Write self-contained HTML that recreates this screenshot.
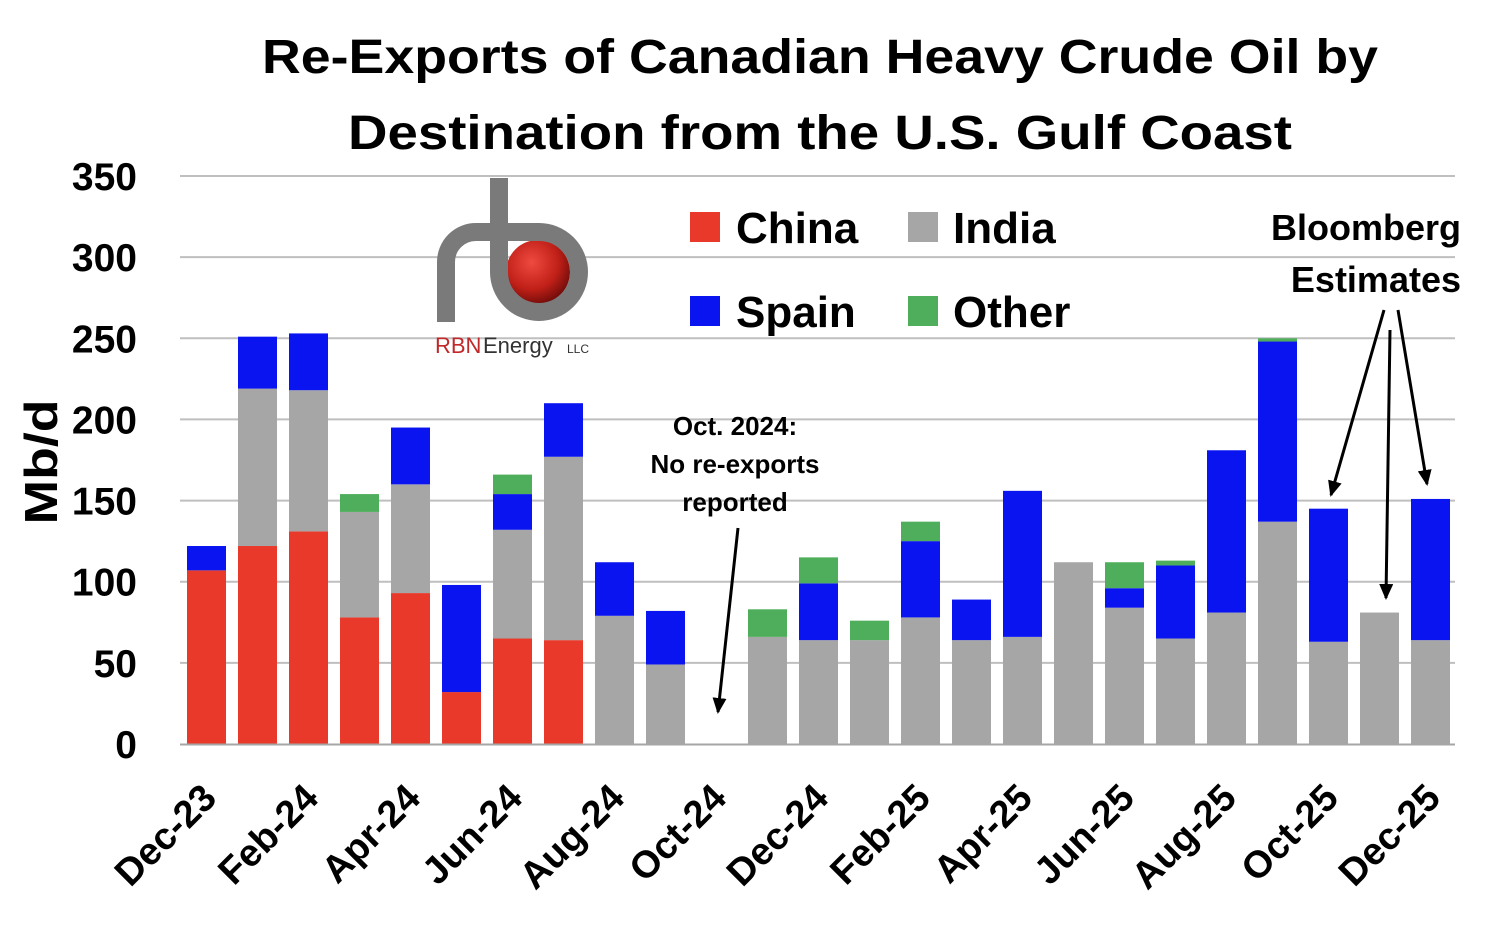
<!DOCTYPE html>
<html><head><meta charset="utf-8">
<style>
html,body{margin:0;padding:0;background:#fff;}
svg{display:block;font-family:"Liberation Sans",sans-serif;}
</style></head>
<body>
<svg id="chart" width="1502" height="928" viewBox="0 0 1502 928">
<defs>
<radialGradient id="ball" cx="0.4" cy="0.35" r="0.7">
<stop offset="0" stop-color="#f04a40"/><stop offset="0.6" stop-color="#c02018"/><stop offset="1" stop-color="#6a0a08"/>
</radialGradient>
<marker id="ah" markerWidth="16" markerHeight="14" refX="14" refY="7" orient="auto" markerUnits="userSpaceOnUse" viewBox="0 0 16 14">
<path d="M0,0 L16,7 L0,14 z" fill="#000"/></marker>
</defs>
<g id="title" font-weight="bold" font-size="48" text-anchor="middle" fill="#000">
<text x="820" y="73" textLength="1116" lengthAdjust="spacingAndGlyphs">Re-Exports of Canadian Heavy Crude Oil by</text>
<text x="820" y="149" textLength="944" lengthAdjust="spacingAndGlyphs">Destination from the U.S. Gulf Coast</text>
</g>
<g id="grid"></g>
<g id="yticks"></g>
<text x="0" y="0" transform="translate(57,462) rotate(-90)" text-anchor="middle" font-weight="bold" font-size="46" textLength="125" lengthAdjust="spacingAndGlyphs">Mb/d</text>
<g id="bars"></g>
<line x1="180" y1="744.5" x2="1455" y2="744.5" stroke="#a6a6a6" stroke-width="2"/>
<g id="xticks"></g>
<g>
<circle cx="538" cy="272" r="32" fill="url(#ball)"/>
<path d="M499,178 L499,272 A40,40 0 1 0 539,232 L 505,232" fill="none" stroke="#7a7a7a" stroke-width="18"/>
<path d="M446,322 L446,262 A30,30 0 0 1 476,232 L505,232" fill="none" stroke="#7a7a7a" stroke-width="18"/>
<text x="435" y="353" font-size="22" fill="#c0282a">RBN</text>
<text x="483" y="353" font-size="22" fill="#333">Energy</text>
<text x="567" y="353" font-size="12" fill="#333">LLC</text>
</g>
<g font-weight="bold" font-size="44">
<g><rect x="690" y="212" width="30" height="30" fill="#e8392b"/><text x="736" y="243">China</text></g>
<g><rect x="908" y="212" width="30" height="30" fill="#a6a6a6"/><text x="953" y="243">India</text></g>
<g><rect x="690" y="296" width="30" height="30" fill="#0a14f0"/><text x="736" y="327">Spain</text></g>
<g><rect x="908" y="296" width="30" height="30" fill="#4eae5b"/><text x="953" y="327">Other</text></g>
</g>
<g font-weight="bold" font-size="26" text-anchor="middle">
<text x="735" y="435">Oct. 2024:</text>
<text x="735" y="473">No re-exports</text>
<text x="735" y="511">reported</text>
<line x1="738" y1="528" x2="718" y2="712" stroke="#000" stroke-width="3" marker-end="url(#ah)"/>
</g>
<g font-weight="bold" font-size="36" text-anchor="end">
<text x="1461" y="240">Bloomberg</text>
<text x="1461" y="292">Estimates</text>
<line x1="1384" y1="310" x2="1331" y2="495" stroke="#000" stroke-width="3" marker-end="url(#ah)"/>
<line x1="1390" y1="330" x2="1386" y2="598" stroke="#000" stroke-width="3" marker-end="url(#ah)"/>
<line x1="1398" y1="310" x2="1427" y2="484" stroke="#000" stroke-width="3" marker-end="url(#ah)"/>
</g>
</svg>
<script>
const months = ["Dec-23","Jan-24","Feb-24","Mar-24","Apr-24","May-24","Jun-24","Jul-24","Aug-24","Sep-24","Oct-24","Nov-24","Dec-24","Jan-25","Feb-25","Mar-25","Apr-25","May-25","Jun-25","Jul-25","Aug-25","Sep-25","Oct-25","Nov-25","Dec-25"];
const china = [107,122,131,78,93,32,65,64,0,0,0,0,0,0,0,0,0,0,0,0,0,0,0,0,0];
const india = [0,97,87,65,67,0,67,113,79,49,0,66,64,64,78,64,66,112,84,65,81,137,63,81,64];
const spain = [15,32,35,0,35,66,22,33,33,33,0,0,35,0,47,25,90,0,12,45,100,111,82,0,87];
const other = [0,0,0,11,0,0,12,0,0,0,0,17,16,12,12,0,0,0,16,3,0,2,0,0,0];
const yTicks = [0,50,100,150,200,250,300,350];
const xLabels = ["Dec-23","Feb-24","Apr-24","Jun-24","Aug-24","Oct-24","Dec-24","Feb-25","Apr-25","Jun-25","Aug-25","Oct-25","Dec-25"];

const NS="http://www.w3.org/2000/svg";
const x0=180, slot=51, bw=39, yBase=744, pxPer=(744-176)/350;
const yS=v=>yBase-v*pxPer;
const xS=i=>x0+slot*i+(slot-bw)/2+1;
function mk(tag,attrs,parent){const e=document.createElementNS(NS,tag);for(const k in attrs)e.setAttribute(k,attrs[k]);parent.appendChild(e);return e;}
const grid=document.getElementById('grid'), yt=document.getElementById('yticks');
yTicks.forEach(t=>{
  if(t>0){const l=mk('line',{x1:180,x2:1455,y1:yS(t),y2:yS(t),stroke:'#bfbfbf','stroke-width':2},grid);
  
  }
  const tx=mk('text',{x:137,y:yS(t)+14,'text-anchor':'end','font-weight':'bold','font-size':39},yt);
  tx.textContent=t;
  
  
});
const bars=document.getElementById('bars');
const series=[["china",china,"#e8392b"],["india",india,"#a6a6a6"],["spain",spain,"#0a14f0"],["other",other,"#4eae5b"]];
months.forEach((m,i)=>{
  let acc=0;
  series.forEach(([nm,arr,col])=>{
    const v=arr[i]; if(!v){return;}
    const r=mk('rect',{x:xS(i),y:yS(acc+v),width:bw,height:yS(acc)-yS(acc+v),fill:col},bars);
    
    
    acc+=v;
  });
});
const xt=document.getElementById('xticks');
xLabels.forEach(lb=>{
  const i=months.indexOf(lb);
  const cx=xS(i)+bw/2+12, cy=800;
  const t=mk('text',{x:cx,y:cy,'text-anchor':'end','font-weight':'bold','font-size':38,transform:`rotate(-45 ${cx} ${cy})`},xt);
  t.textContent=lb;
  
  
});
</script>
</body></html>
